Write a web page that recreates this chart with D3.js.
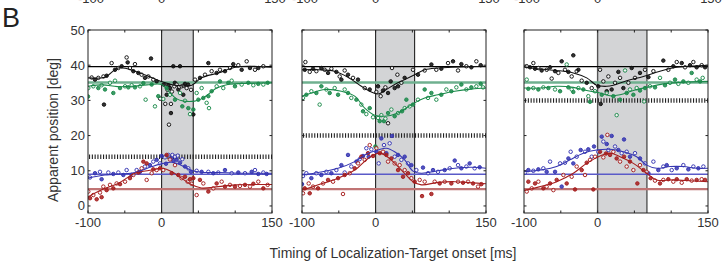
<!DOCTYPE html>
<html><head><meta charset="utf-8">
<script src="https://cdn.jsdelivr.net/npm/d3@7"></script>
<style>
html,body{margin:0;padding:0;background:#fff;}
svg{display:block;font-family:"Liberation Sans",Arial,Helvetica,sans-serif;}
</style></head>
<body>
<svg id="chart" width="723" height="265"></svg>
<script>
// ---------- data ----------
const xTickValues = [-100, -50, 0, 50, 100, 150];
const xTickLabels = ["-100", "0", "150"];
const yTickValues = [0, 10, 20, 30, 40, 50];
const bandEnd = [43, 53, 67];
const dottedLevel = [14, 20, 30];
const refBlack = 39.6, refGreen = 35.1, refBlue = 9, refRed = 4.8;

// Panel 1
const p1Black = [[-95,36.5],[-90.5,35.9],[-86,36.4],[-78.3,28.8],[-79,36.8],[-74.7,37],[-67.9,40.6],[-63.3,38.7],[-58.8,39.2],[-54.3,39.7],[-47.5,42.2],[-46.1,40.8],[-43,39.2],[-38.4,38.3],[-36.2,40.3],[-31.6,37.8],[-27.1,37.3],[-22.6,36.4],[-18,36.8],[-14.4,41.9],[-11.3,35.9],[-6.7,35.4],[-2,30.5],[3,34.5],[5,29],[6.9,31.6],[8,33],[9.1,34.3],[10,23.1],[11.4,33.5],[12.7,29],[12.7,26.4],[14,32.5],[15.9,39.7],[17.3,34],[18,35],[20.4,34.5],[22.7,33.1],[24,33.8],[25,39.7],[27.2,34],[29.5,31.6],[30,34.2],[31.8,34.7],[34,33.5],[36,34.5],[40,33],[43.1,26],[45.4,35.9],[52.2,36.4],[59,37.3],[63.5,40.6],[68,38.3],[74.8,37.8],[79.3,38.7],[86.1,38.3],[92.9,39.2],[97.4,40.3],[104.2,40],[108.8,38.7],[115.6,41.1],[120.1,39.2],[126.9,38.7],[131.4,39.2],[138.2,39.7]];
const p1Green = [[-99.6,33.5],[-100,31.1],[-92.8,34],[-86,33.5],[-81.5,34.3],[-76.9,33.1],[-70.1,35],[-65.6,32.1],[-63.3,35.6],[-56.5,33.5],[-49.7,34],[-45.2,33.7],[-40.7,34.3],[-36.2,33.7],[-29.4,34],[-24.8,34.9],[-21.7,30.2],[-13.5,34.5],[-9,28.3],[-4.5,31.2],[2.3,30.4],[6.9,33.5],[11.4,31.6],[18.2,30.2],[25,32.1],[28.1,28.3],[31.8,29.9],[36.3,27.8],[38.6,26.1],[43.1,27.4],[47.6,32.1],[49.9,30.2],[54.4,33.5],[56.7,30.7],[61.2,29.3],[63.5,31.2],[64.4,27.8],[68,32.6],[74.8,34],[79.3,35.4],[83.8,33.5],[90.6,35],[95.2,35.6],[99.7,34],[108.8,34.5],[117.8,35],[124.6,34.3],[131.4,34.7],[138.2,34.5],[144.1,35]];
const p1Blue = [[-97.3,8.1],[-90.5,9.3],[-83.7,9.7],[-81.5,7.6],[-72.4,9.5],[-65.6,9.1],[-58.8,9.5],[-52,8.8],[-47.5,10.2],[-40.7,8.8],[-33.9,10.2],[-29.4,9.7],[-22.6,11.2],[-15.8,11.6],[-11.3,12.6],[-6.7,13.1],[-2.2,12.1],[0.1,14.2],[4.6,13.8],[6,12],[9.1,14.5],[12.7,13.5],[14.6,14.5],[16,12.8],[18.2,14],[20.4,13.1],[22,14.3],[25,12.3],[28.1,13.3],[31.8,11.2],[36.3,10.7],[39.9,9.7],[47.6,10],[54.4,9.7],[63.5,9.7],[70.3,9.3],[77,9.5],[86.1,10.2],[95.2,9.3],[104.2,9.5],[113.3,9.3],[122.4,9.7],[126.9,10.2],[131.4,9.1],[138.2,9.5],[142.7,9.1]];
const p1Red = [[-99.6,4.1],[-97.3,2.2],[-92.8,3.1],[-88.2,1.9],[-83.7,3.8],[-81.5,2.5],[-79.2,5.5],[-74.7,4.5],[-70.1,6],[-65.6,5],[-61.1,6.4],[-56.5,6.2],[-49.7,6.9],[-43,7.9],[-38.4,8.8],[-31.6,9.5],[-27.1,10.7],[-24.8,12.6],[-20.3,7.4],[-20.3,12.1],[-13.5,9.3],[-11.3,10.4],[-6.7,10.2],[-2.2,10.7],[2.3,10.2],[6.9,14.5],[11.4,13.2],[13.7,9.3],[18.2,11.6],[22.7,8.8],[27.2,7.9],[31.8,8.3],[35.4,6.9],[38.6,7.6],[40.8,6.3],[43.1,7.9],[47.6,3.1],[52.1,7.4],[56.7,6.4],[63.5,4.1],[70.3,5],[74.8,6.4],[81.6,6.9],[86.1,5.5],[92.9,6],[99.7,5.5],[106.5,5.7],[113.3,6],[120.1,5.5],[124.6,6.3],[131.4,6.9],[138.2,5],[144.1,6]];
const p1BlackFit = [[-100,36.4],[-77,36.6],[-59,39.2],[-36,38.3],[-13,36.4],[2,35.2],[18,34.3],[41,34.3],[54,36.4],[77,37.8],[100,39.4],[118,39.7],[150,39.4]];
const p1GreenFit = [[-100,34],[-80,34.4],[-60,33.9],[-40,34],[-20,34.4],[0,34.5],[10,32.5],[20,30.5],[30,29.8],[45,29.8],[55,30.5],[65,32],[75,33.5],[90,34.5],[110,34.8],[150,35]];
const p1BlueFit = [[-100,7.9],[-77,8.8],[-36,9.5],[-13,11.2],[2,12.1],[14,12.4],[25,11.7],[41,10.1],[54,9.6],[77,9.5],[110,9.3],[150,9.3]];
const p1RedFit = [[-100,2.6],[-77,5],[-59,6.4],[-36,9.3],[-13,10.2],[2,10.7],[14,9.7],[27,7.9],[41,6],[54,5.1],[77,5.5],[100,6],[150,6.1]];

// Panel 2
const p2Black = [[-95.4,40.9],[-96.3,38.7],[-89.5,38.1],[-85,39],[-80.5,38.3],[-73.7,39.2],[-69.2,38.7],[-64.6,37.8],[-60.1,39],[-53.3,38.1],[-48.8,36.8],[-46.5,35.9],[-42,38.5],[-37.5,37.3],[-30.7,36.4],[-23.9,35.9],[-14.8,33.5],[-8,33.1],[1,32.4],[3.3,34],[6.9,31.2],[10.1,32.8],[13.3,33.7],[16.9,32.1],[16.9,23.5],[20.5,35.4],[22.3,39.2],[25.9,33.5],[29.6,37.3],[30.5,34],[35,35],[39.5,36.4],[50.8,38.7],[57.6,37.3],[66.7,38.5],[75.8,40.2],[82.5,38.7],[89.3,39],[98.4,40.6],[105.2,41.1],[112,38.5],[116.5,40.3],[123.3,39.7],[130.1,39.4],[136.9,41.1],[142.8,40]];
const p2Green = [[-98.6,30.7],[-94.1,31.6],[-87.3,32.6],[-80.5,32.1],[-76,28.8],[-73.7,34],[-66.9,33.1],[-62.4,32.1],[-55.6,33.5],[-51,31.6],[-42,33.1],[-37.5,32.1],[-33,30.7],[-26.1,30.2],[-19.4,28.8],[-17.1,26.9],[-12.6,26.1],[-8,27.8],[-3.5,25.2],[-0.3,16.9],[3.3,25],[5.6,24.1],[7.8,25.8],[11.4,24.1],[13.3,24.8],[16.9,26.4],[21.4,27.4],[25.9,25.5],[30.5,26.4],[35.9,26.9],[39.5,27.8],[41.8,30.2],[46.3,28.3],[50.8,28.8],[57.6,30.2],[66.7,33.1],[71.2,30.7],[75.8,32.1],[82.5,30.2],[89.3,31.6],[96.1,33.1],[102.9,32.6],[109.7,33.7],[116.5,34.5],[123.3,33.1],[130.1,33.7],[136.9,34],[142.8,34.7],[146,33.7]];
const p2Blue = [[-98.6,8.5],[-100,6.2],[-94.1,9.3],[-87.3,7.9],[-80.5,9.3],[-73.7,8.8],[-66.9,9.7],[-60.1,9.3],[-53.3,10.2],[-46.5,11.6],[-42,9.5],[-37.5,14.5],[-33,11.2],[-26.1,12.6],[-21.6,13.3],[-17.1,14.2],[-12.6,16.4],[-9.4,14],[-5.8,16.1],[1,15.4],[4.2,12.1],[7.8,19.2],[11.4,17.3],[14.6,15],[19.1,17.8],[22.3,19.9],[25.9,14],[30.5,14.5],[35,13.1],[39.5,14],[44,12.1],[48.6,11.6],[55.4,10.2],[64.4,10.9],[71.2,9.3],[78,10.2],[84.8,9.7],[93.9,10.2],[100.7,10.7],[107.5,12.9],[112,11.6],[116.5,10.7],[123.3,11.2],[127.8,12.1],[134.6,10.7],[141.4,11]];
const p2Red = [[-98.6,3.6],[-96.3,5],[-90.9,6.4],[-89.5,3.6],[-85,5.5],[-78.2,5],[-71.4,6.4],[-64.6,7.4],[-57.8,6.9],[-51,7.9],[-44.3,3.4],[-42,8.8],[-35.2,9.3],[-28.4,10.7],[-23.9,12.1],[-19.4,14],[-14.8,13.1],[-10.3,15],[-8,17.3],[-3.5,14.2],[1,16.4],[5.6,15],[10.1,15.4],[14.6,14.5],[16.9,12.6],[21.4,13.5],[25.9,12.1],[30.5,10.2],[32.7,11.6],[37.3,8.3],[39.5,10.2],[44,9.3],[48.6,7.9],[53.1,6.9],[59.9,7.4],[63.1,2.8],[66.7,6.9],[75.8,3.4],[80.3,6.9],[87.1,6.4],[93.9,6.9],[102.9,6.4],[112,6.9],[118.8,6.6],[125.6,6.9],[132.4,6.4],[139.2,5.5],[143.7,6.2]];
const p2BlackFit = [[-100,38.7],[-78,38.7],[-56,38.3],[-37.5,36.6],[-19.4,34],[-8,32.6],[3.3,31.8],[14.6,33.1],[25.9,34.5],[39.5,35.9],[53,37.3],[66.7,38.7],[84.8,39.2],[103,39.4],[150,39.7]];
const p2GreenFit = [[-100,31.2],[-87,32.1],[-69,33.1],[-46.5,32.6],[-28.4,31.2],[-14.8,27.8],[-1.2,25.8],[12.4,25.5],[30.5,26.4],[48.6,28.8],[66.7,30.7],[84.8,31.6],[107.5,32.6],[130,33.2],[150,33.5]];
const p2BlueFit = [[-100,8.8],[-78,9.5],[-51,10.7],[-28.4,12.6],[-10.3,15],[3.3,15.9],[14.6,16.4],[25.9,15.4],[39.5,13.1],[50.8,9.9],[62.2,9.3],[84.8,10],[107.5,10.7],[130,11],[150,10.7]];
const p2RedFit = [[-100,4.5],[-78,6],[-51,7.9],[-28.4,10.2],[-10.3,13.5],[3.3,15],[12.4,14.5],[23.7,12.6],[37.3,9.7],[50.8,6.9],[62.2,6],[84.8,6.7],[107.5,6.9],[130,6.6],[150,6.3]];

// Panel 3
const p3Black = [[-96.3,39.7],[-91.8,39.4],[-87.3,40.6],[-85,39],[-80.5,39.2],[-76,38.5],[-69.2,38.7],[-64.6,39.4],[-62.4,36.2],[-57.8,38.3],[-53.3,37.8],[-48.8,41.1],[-44.3,38.7],[-39.7,38.1],[-35.2,36.8],[-33,42.8],[-28.4,38.3],[-26.1,38.7],[-21.6,35.6],[-14.8,35],[-8,33.5],[1,34],[3.3,38.7],[4.2,29],[7.8,35.4],[12.4,32.6],[14.6,36.8],[19.1,33.1],[23.7,35],[28.2,38.1],[30.5,36.4],[35,33.5],[41.8,35],[46.3,39.2],[50.8,36.4],[57.6,37.8],[64.4,38.7],[69,36.6],[75.8,38.3],[89.3,41.3],[96.1,38.7],[102.9,39.7],[107.5,40.9],[114.3,40.6],[118.8,39.4],[125.6,40],[130.1,40.9],[134.6,39.4],[141.4,40],[146,39.4]];
const p3Green = [[-96.3,35.9],[-94.1,33.3],[-87.3,33.5],[-80.5,33.1],[-73.7,33.7],[-66.9,33.5],[-57.8,33.1],[-51,32.6],[-42,40.2],[-39.7,33.7],[-35.2,33.1],[-33,32.4],[-26.1,33.5],[-19.4,33.1],[-12.6,31.2],[-10.3,29.6],[-3.5,32.6],[5.6,31.6],[12.4,32.1],[21.4,31.2],[25.9,25.8],[30.5,30.2],[37.3,38.5],[39.5,32.1],[44,33.1],[48.6,31.6],[53.1,33.5],[57.6,32.8],[63.1,29.7],[64.4,33.5],[71.2,34],[78,33.7],[84.8,36.4],[91.6,34.3],[98.4,35],[105.2,35.9],[109.7,34.7],[116.5,35.4],[123.3,35],[127.8,37.8],[134.6,35.9],[139.2,35.4],[142.8,36.4]];
const p3Blue = [[-98.6,9.5],[-94.1,10.2],[-87.3,10],[-80.5,10.4],[-73.7,10.7],[-69.2,9.7],[-64.6,12.6],[-57.8,9.7],[-51,12.1],[-48.8,5.5],[-44.3,12.3],[-39.7,13.5],[-36.6,15.4],[-33,12.1],[-28.4,14],[-23,15.9],[-17.1,15.4],[-12.6,16.1],[-8,14],[-4.9,16.9],[1,15.4],[5.6,19.7],[7.8,18.3],[12.4,17.6],[14.6,15.9],[19.1,19.9],[23.7,16.9],[28.2,15.9],[32.7,15],[35.9,18.9],[39.5,15.4],[44,14],[50.8,15],[57.6,13.5],[64.4,12.1],[69,9.3],[75.8,12.6],[82.5,10.2],[89.3,11.2],[93.9,11.6],[100.7,10.2],[107.5,10.7],[116.5,11.6],[123.3,10.4],[130.1,11.2],[136.9,10.7],[143.7,11.2]];
const p3Red = [[-96.3,4.1],[-94.1,6.9],[-89.5,5],[-85,6.4],[-80.5,6.9],[-73.7,5],[-69.2,5.5],[-64.6,6.4],[-60.1,4.5],[-55.6,7.4],[-46.5,8.8],[-42,6.4],[-35.2,8.3],[-30.7,4.7],[-28.4,11.2],[-21.6,10.2],[-17.1,8.8],[-14.8,12.3],[-10.3,13.1],[-5.8,4.7],[-3.5,14],[3.3,15.4],[7.8,13.8],[11.4,14.9],[13.3,20.2],[16.9,14.5],[21.4,15.4],[25.9,13.5],[30.5,12.6],[35.9,14],[39.5,11.2],[44,12.6],[48.6,10.2],[54,6.4],[57.6,11.6],[62.2,10.2],[66.7,9.7],[72.1,7.9],[78,7.2],[84.8,6.4],[89.3,7.4],[96.1,7.6],[102.9,6.9],[107.5,7.6],[114.3,6.6],[121.1,7.6],[127.8,7.2],[134.6,7.4],[141.4,7.6],[146,7.4]];
const p3BlackFit = [[-100,39.5],[-78,38.9],[-55.6,38.5],[-33,37.8],[-14.8,36.4],[-1.2,34.3],[12.4,34],[21.4,34.3],[39.5,35.6],[62.2,36.8],[84.8,38.3],[107.5,39.4],[150,40]];
const p3GreenFit = [[-100,33.5],[-78,33.5],[-55.6,34],[-33,33.7],[-14.8,32.8],[3.3,32.1],[16.9,31.3],[30.5,31.6],[48.6,32.8],[66.7,33.7],[89.3,34.7],[112,35.1],[150,35.4]];
const p3BlueFit = [[-100,9.7],[-78,10.2],[-55.6,11.2],[-37.5,13.1],[-19.4,15],[-1.2,15.9],[16.9,16.1],[35,15.4],[53,14],[66.7,11.6],[80.3,10.7],[98.4,11.2],[116.5,11.2],[134.6,10.7],[150,10.7]];
const p3RedFit = [[-100,4.4],[-78,5.5],[-55.6,6.9],[-33,9.3],[-14.8,12.1],[3.3,14.2],[16.9,15],[30.5,14],[48.6,12.1],[66.7,9.3],[80.3,7.4],[103,7.4],[130,7.1],[150,6.9]];

// ---------- drawing ----------
const colors = {black:"#111111", green:"#1b8a4b", blue:"#3636b2", red:"#a51d1d"};
const refStyles = [
  {level: refGreen, color:"#6fb08f", width:2.6},
  {level: refBlue,  color:"#5a5ac8", width:1.6},
  {level: refRed,   color:"#c07474", width:2.2},
  {level: refBlack, color:"#000000", width:1.3}
];
const panels = [
  {left:88, band:bandEnd[0], dotted:dottedLevel[0], pts:[p1Black,p1Green,p1Blue,p1Red], fits:[p1BlackFit,p1GreenFit,p1BlueFit,p1RedFit], yLabels:true},
  {left:302, band:bandEnd[1], dotted:dottedLevel[1], pts:[p2Black,p2Green,p2Blue,p2Red], fits:[p2BlackFit,p2GreenFit,p2BlueFit,p2RedFit], yLabels:false},
  {left:524, band:bandEnd[2], dotted:dottedLevel[2], pts:[p3Black,p3Green,p3Blue,p3Red], fits:[p3BlackFit,p3GreenFit,p3BlueFit,p3RedFit], yLabels:false}
];
const seriesColors = [colors.black, colors.green, colors.blue, colors.red];
const W = 184, yTop = 30, yBottom = 213;
const svg = d3.select("#chart");
const y = d3.scaleLinear().domain([-2, 50]).range([yBottom, yTop]);

panels.forEach((p, pi) => {
  const x = d3.scaleLinear().domain([-100, 150]).range([p.left, p.left + W]);
  const g = svg.append("g");
  const clipId = "clip" + pi;
  svg.append("clipPath").attr("id", clipId).append("rect")
    .attr("x", p.left).attr("y", yTop).attr("width", W).attr("height", yBottom - yTop);
  // band
  g.append("rect").attr("x", x(0)).attr("y", yTop).attr("width", x(p.band) - x(0)).attr("height", yBottom - yTop)
    .attr("fill", "#d3d4d6");
  [0, p.band].forEach(v => g.append("line").attr("x1", x(v)).attr("x2", x(v)).attr("y1", yTop).attr("y2", yBottom)
    .attr("stroke", pi === 2 ? "#555" : "#222").attr("stroke-width", pi === 2 ? 1.4 : 1.1));
  const inner = g.append("g").attr("clip-path", `url(#${clipId})`);
  // reference lines
  refStyles.forEach(r => inner.append("line").attr("x1", p.left).attr("x2", p.left + W)
    .attr("y1", y(r.level)).attr("y2", y(r.level)).attr("stroke", r.color).attr("stroke-width", r.width));
  inner.append("line").attr("x1", p.left + 1).attr("x2", p.left + W).attr("y1", y(p.dotted)).attr("y2", y(p.dotted))
    .attr("stroke", "#222").attr("stroke-width", 4.5).attr("stroke-dasharray", "1.1,1.7");
  // points
  p.pts.forEach((arr, si) => {
    inner.append("g").selectAll("circle").data(arr).join("circle")
      .attr("cx", d => x(d[0])).attr("cy", d => y(d[1])).attr("r", 1.75)
      .attr("fill", (d, i) => i % 2 ? seriesColors[si] : "#fff")
      .attr("fill-opacity", (d, i) => i % 2 ? 0.85 : 0.7)
      .attr("stroke", seriesColors[si]).attr("stroke-width", 0.95);
  });
  // fits
  const line = d3.line().x(d => x(d[0])).y(d => y(d[1])).curve(d3.curveCatmullRom.alpha(0.5));
  p.fits.forEach((arr, si) => inner.append("path").attr("d", line(arr)).attr("fill", "none")
    .attr("stroke", seriesColors[si]).attr("stroke-width", 1.1));
  // box
  g.append("rect").attr("x", p.left).attr("y", yTop).attr("width", W).attr("height", yBottom - yTop)
    .attr("fill", "none").attr("stroke", "#222").attr("stroke-width", 1);
  // ticks
  xTickValues.forEach(v => {
    g.append("line").attr("x1", x(v)).attr("x2", x(v)).attr("y1", yBottom).attr("y2", yBottom - 2.5).attr("stroke", "#222");
    g.append("line").attr("x1", x(v)).attr("x2", x(v)).attr("y1", yTop).attr("y2", yTop + 2.5).attr("stroke", "#222");
  });
  yTickValues.forEach(v => {
    g.append("line").attr("x1", p.left).attr("x2", p.left + 2.5).attr("y1", y(v)).attr("y2", y(v)).attr("stroke", "#222");
    g.append("line").attr("x1", p.left + W).attr("x2", p.left + W - 2.5).attr("y1", y(v)).attr("y2", y(v)).attr("stroke", "#222");
  });
  // x tick labels (bottom) and the cropped labels of the row above (top, cut off as in the reference)
  [-100, 0, 150].forEach((v, k) => {
    g.append("text").attr("x", x(v)).attr("y", 227).attr("text-anchor", "middle")
      .attr("font-size", 13).attr("fill", "#333").text(xTickLabels[k]);
    g.append("text").attr("x", x(v) + (k === 1 ? 0 : 3)).attr("y", 3).attr("text-anchor", "middle")
      .attr("font-size", 13).attr("fill", "#333").text(xTickLabels[k]);
  });
  if (p.yLabels) {
    yTickValues.forEach(v => g.append("text").attr("x", p.left - 3).attr("y", y(v) + 4.5)
      .attr("text-anchor", "end").attr("font-size", 13).attr("fill", "#333").text(String(v)));
  }
});

svg.append("text").attr("transform", "translate(58,130) rotate(-90)").attr("text-anchor", "middle")
  .attr("font-size", 14).attr("fill", "#333").text("Apparent position [deg]");
svg.append("text").attr("x", 393).attr("y", 258).attr("text-anchor", "middle")
  .attr("font-size", 14).attr("fill", "#333").text("Timing of Localization-Target onset [ms]");
svg.append("text").attr("x", 2).attr("y", 27).attr("font-size", 27).attr("fill", "#222").text("B");
</script>
</body></html>
